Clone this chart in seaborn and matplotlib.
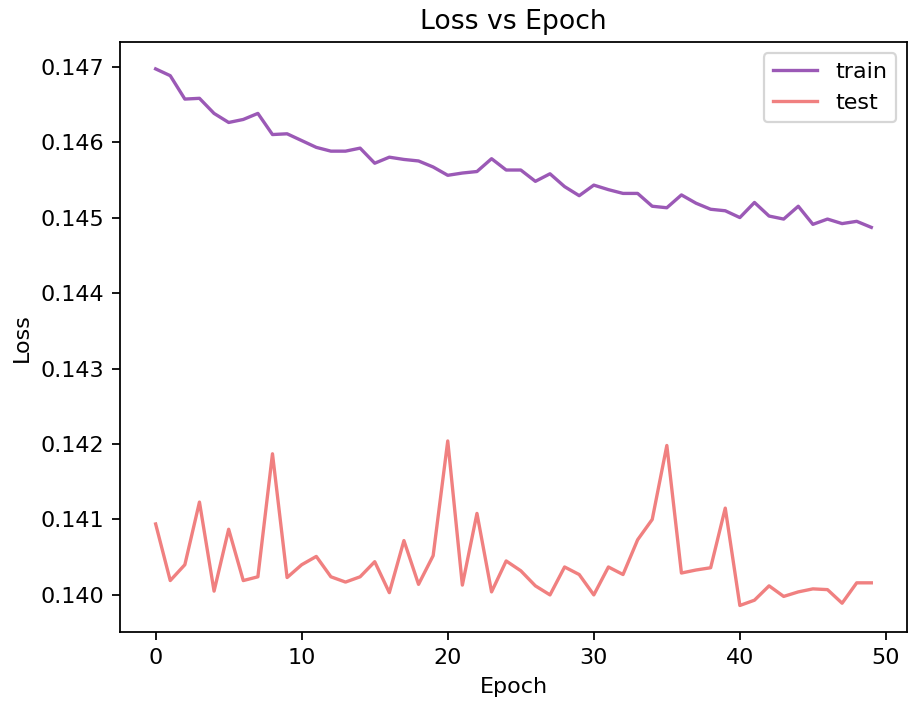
import numpy as np
import pandas as pd
import matplotlib
matplotlib.use("Agg")
import matplotlib.pyplot as plt
import seaborn as sns

# values
epochs = np.arange(50)
train_loss = [0.14697, 0.14688, 0.14657, 0.14658, 0.14638, 0.14626, 0.14630, 0.14638, 0.14610, 0.14611,
              0.14602, 0.14593, 0.14588, 0.14588, 0.14592, 0.14572, 0.14580, 0.14577, 0.14575, 0.14567,
              0.14556, 0.14559, 0.14561, 0.14578, 0.14563, 0.14563, 0.14548, 0.14558, 0.14541, 0.14529,
              0.14543, 0.14537, 0.14532, 0.14532, 0.14515, 0.14513, 0.14530, 0.14519, 0.14511, 0.14509,
              0.14500, 0.14520, 0.14502, 0.14498, 0.14515, 0.14491, 0.14498, 0.14492, 0.14495, 0.14487]
test_loss = [0.14094, 0.14019, 0.14040, 0.14123, 0.14005, 0.14087, 0.14019, 0.14024, 0.14187, 0.14023,
             0.14040, 0.14051, 0.14024, 0.14017, 0.14024, 0.14044, 0.14003, 0.14072, 0.14014, 0.14052,
             0.14204, 0.14013, 0.14108, 0.14004, 0.14045, 0.14032, 0.14012, 0.14000, 0.14037, 0.14027,
             0.14000, 0.14037, 0.14027, 0.14073, 0.14100, 0.14198, 0.14029, 0.14033, 0.14036, 0.14115,
             0.13986, 0.13993, 0.14012, 0.13998, 0.14004, 0.14008, 0.14007, 0.13989, 0.14016, 0.14016]

df = pd.DataFrame({'epoch': epochs, 'train': train_loss, 'test': test_loss})

DPI = 160
fig = plt.figure(figsize=(908/DPI, 701/DPI), dpi=DPI)
ax = fig.add_subplot()
fig.subplots_adjust(left=0.132, right=0.999, top=0.940, bottom=0.098)

sns.lineplot(data=df, x='epoch', y='train', color='#9b59b6', label='train', ax=ax)
sns.lineplot(data=df, x='epoch', y='test', color='#f08080', label='test', ax=ax)

ax.set_title('Loss vs Epoch')
ax.set_xlabel('Epoch')
ax.set_ylabel('Loss')
ax.legend(loc='upper right')

fig.savefig('out.png', dpi=DPI)
